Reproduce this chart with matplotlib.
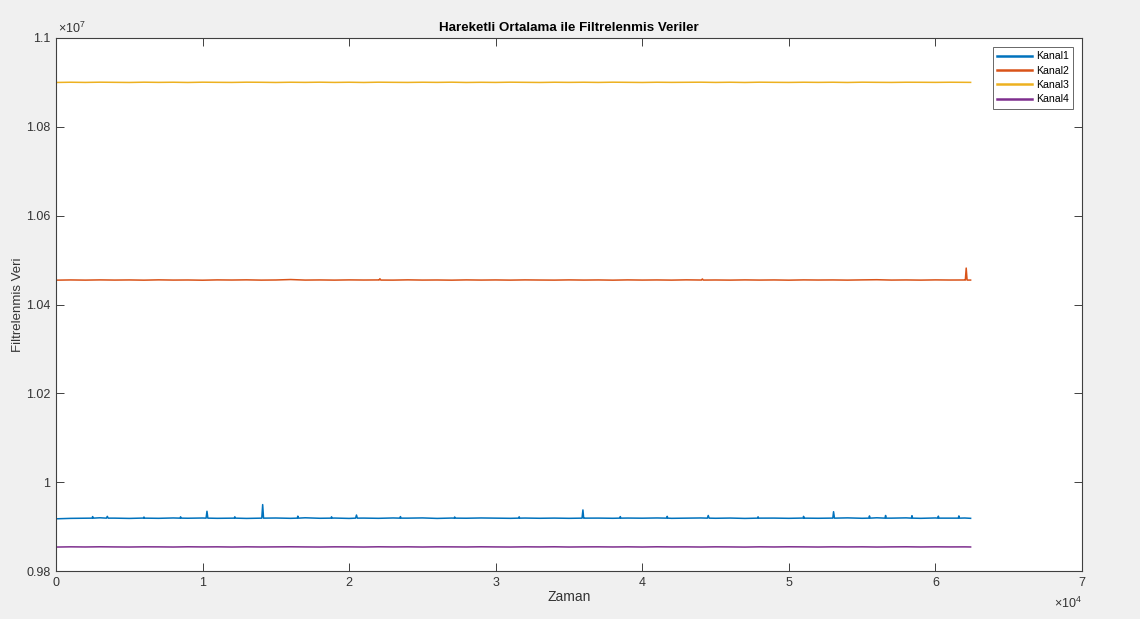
import numpy as np
import matplotlib
matplotlib.use('Agg')
import matplotlib.pyplot as plt

plt.rcParams['font.family'] = ['Liberation Sans', 'DejaVu Sans']
plt.rcParams['mathtext.fontset'] = 'custom'
plt.rcParams['mathtext.rm'] = 'Liberation Sans'
plt.rcParams['mathtext.it'] = 'Liberation Sans'

# sample index of the base readings (every 1000 samples, last at 62400)
zaman = list(range(0, 62001, 1000)) + [62400]

kanal1 = [9917500, 9918500, 9919000, 9919800, 9919000, 9918400, 9919200, 9918600,
          9919400, 9918800, 9919300, 9918600, 9919100, 9918400, 9919000, 9919300,
          9918600, 9919800, 9918700, 9919200, 9918400, 9919100, 9918600, 9919400,
          9919000, 9919500, 9918400, 9919200, 9918800, 9919400, 9919000, 9918600,
          9919200, 9918700, 9919100, 9918600, 9919100, 9919100, 9918700, 9919200,
          9918900, 9919400, 9918600, 9919100, 9919400, 9918700, 9919200, 9918400,
          9919000, 9919100, 9918600, 9919200, 9918700, 9919100, 9919600, 9918700,
          9919800, 9919000, 9919600, 9918600, 9919400, 9919100, 9919300, 9918600]
kanal2 = [10454800, 10455300, 10454900, 10455400, 10455000, 10455300, 10454800, 10455500,
          10455000, 10455200, 10454700, 10455400, 10455100, 10455500, 10454900, 10455200,
          10456200, 10455000, 10455300, 10454900, 10455400, 10455100, 10455300, 10454900,
          10455500, 10455000, 10455200, 10454800, 10455400, 10455000, 10455300, 10454900,
          10455400, 10455100, 10454900, 10455400, 10455000, 10455300, 10454800, 10455400,
          10455000, 10455300, 10454900, 10455500, 10455100, 10455200, 10454900, 10455400,
          10455000, 10455300, 10454800, 10455400, 10455100, 10455300, 10454900, 10455400,
          10455800, 10455000, 10455300, 10454900, 10455400, 10455100, 10455200, 10455000]
kanal3 = [10899900, 10900400, 10900000, 10900500, 10900200, 10899900, 10900500, 10900100,
          10900400, 10899900, 10900500, 10900200, 10900000, 10900500, 10900300, 10899900,
          10900400, 10900100, 10900500, 10900000, 10900400, 10899900, 10900500, 10900200,
          10900000, 10900400, 10900100, 10900500, 10899900, 10900300, 10900000, 10900500,
          10900200, 10899900, 10900400, 10900100, 10900400, 10900000, 10900500, 10900200,
          10899900, 10900400, 10900100, 10900300, 10900500, 10900000, 10900400, 10899900,
          10900500, 10900200, 10900000, 10900400, 10900100, 10900400, 10899900, 10900500,
          10900200, 10900000, 10900400, 10900300, 10900100, 10900400, 10900200, 10900100]
kanal4 = [9853900, 9854400, 9854100, 9854500, 9854200, 9854000, 9854400, 9854300,
          9854000, 9854500, 9854200, 9854400, 9854000, 9854400, 9854100, 9854300,
          9854500, 9854200, 9854000, 9854400, 9854300, 9854000, 9854500, 9854200,
          9854400, 9854000, 9854400, 9854300, 9854100, 9854500, 9854200, 9854000,
          9854400, 9854200, 9854500, 9854000, 9854300, 9854400, 9854100, 9854400,
          9854000, 9854500, 9854200, 9854300, 9854000, 9854400, 9854200, 9853900,
          9854400, 9854100, 9854500, 9854300, 9854000, 9854400, 9854200, 9854400,
          9854000, 9854300, 9854500, 9854100, 9854400, 9854200, 9854300, 9854100]

# narrow spikes and bumps of Kanal1 (flank, peak, flank)
kanal1_spike_x = [2460, 2500, 2540, 3440, 3500, 3560, 5960, 6000, 6040, 8460, 8500, 8540,
                  10240, 10300, 10360, 12160, 12200, 12240, 14040, 14100, 14160,
                  16460, 16500, 16540, 18760, 18800, 18840, 20440, 20500, 20560,
                  23460, 23500, 23540, 27160, 27200, 27240, 31560, 31600, 31640,
                  35890, 35950, 36010, 38460, 38500, 38540, 41660, 41700, 41740,
                  44440, 44500, 44560, 47860, 47900, 47940, 50960, 51000, 51040,
                  52990, 53050, 53110, 55460, 55500, 55540, 56560, 56600, 56640,
                  58360, 58400, 58440, 60160, 60200, 60240, 61560, 61600, 61640]
kanal1_spike_y = [9919000, 9922500, 9919000, 9919000, 9923000, 9919000, 9919000, 9921500, 9919000,
                  9919000, 9922000, 9919000, 9919000, 9934500, 9919000, 9919000, 9922000, 9919000,
                  9919000, 9949500, 9919000, 9919000, 9923500, 9919000, 9919000, 9922000, 9919000,
                  9919000, 9926000, 9919000, 9919000, 9922500, 9919000, 9919000, 9921500, 9919000,
                  9919000, 9922000, 9919000, 9919000, 9937500, 9919000, 9919000, 9922500, 9919000,
                  9919000, 9923000, 9919000, 9919000, 9925000, 9919000, 9919000, 9922000, 9919000,
                  9919000, 9923000, 9919000, 9919000, 9933500, 9919000, 9919000, 9924000, 9919000,
                  9919000, 9925000, 9919000, 9919000, 9924500, 9919000, 9919000, 9923500, 9919000,
                  9919000, 9924000, 9919000]
kanal2_spike_x = [22040, 22100, 22160, 44040, 44100, 44160, 62040, 62100, 62160]
kanal2_spike_y = [10455000, 10458000, 10455000, 10455000, 10457500, 10455000,
                  10455000, 10482000, 10455000]

labels = ['Kanal1', 'Kanal2', 'Kanal3', 'Kanal4']
colors = ['#0072BD', '#D95319', '#EDB120', '#7E2F8E']

x_ticks = [0, 10000, 20000, 30000, 40000, 50000, 60000, 70000]
x_ticklabels = ['0', '1', '2', '3', '4', '5', '6', '7']
y_ticks = [9800000, 10000000, 10200000, 10400000, 10600000, 10800000, 11000000]
y_ticklabels = ['0.98', '1', '1.02', '1.04', '1.06', '1.08', '1.1']


def merge(xs, ys, sx=None, sy=None):
    xs = np.asarray(xs, dtype=float)
    ys = np.asarray(ys, dtype=float)
    if sx is not None:
        xs = np.concatenate([xs, sx])
        ys = np.concatenate([ys, sy])
    order = np.argsort(xs, kind='stable')
    return xs[order], ys[order]


series = [merge(zaman, kanal1, kanal1_spike_x, kanal1_spike_y),
          merge(zaman, kanal2, kanal2_spike_x, kanal2_spike_y),
          merge(zaman, kanal3),
          merge(zaman, kanal4)]

fig = plt.figure(figsize=(11.4, 6.19), dpi=100, facecolor='#f0f0f0')
ax = fig.add_axes([56 / 1140, 1 - 571 / 619, 1026 / 1140, 533 / 619])
ax.set_facecolor('white')

for (xs, ys), lab, c in zip(series, labels, colors):
    ax.plot(xs, ys, color=c, lw=1.1, label=lab)

ax.set_xlim(0, 70000)
ax.set_ylim(9800000, 11000000)
ax.set_xticks(x_ticks)
ax.set_xticklabels(x_ticklabels)
ax.set_yticks(y_ticks)
ax.set_yticklabels(y_ticklabels)

tick_col = '#333333'
ax.tick_params(direction='in', length=5.8, width=0.7, color='#404040',
               labelcolor=tick_col, labelsize=9, top=True, right=True, pad=4)
for s in ax.spines.values():
    s.set_color('#404040')
    s.set_linewidth(0.8)

ax.text(0.002, 1.004, r'$\times$10$^{7}$', transform=ax.transAxes, ha='left', va='bottom',
        fontsize=9, color=tick_col)
ax.text(1.0, -0.046, r'$\times$10$^{4}$', transform=ax.transAxes, ha='right', va='top',
        fontsize=9, color=tick_col)

ax.set_title('Hareketli Ortalama ile Filtrelenmis Veriler', fontsize=9.6,
             fontweight='bold', color='black', pad=5)
ax.set_xlabel('Zaman', fontsize=10, color=tick_col)
ax.xaxis.set_label_coords(0.5, -0.036)
ax.set_ylabel('Filtrelenmis Veri', fontsize=9.5, color=tick_col)
ax.yaxis.set_label_coords(-0.031, 0.5)

leg = ax.legend(loc='upper right', fontsize=7.6, frameon=True, fancybox=False,
                borderpad=0.4, labelspacing=0.42, handlelength=3.3, handletextpad=0.4,
                borderaxespad=0.85)
leg.get_frame().set_edgecolor('#404040')
leg.get_frame().set_linewidth(0.7)
for ln in leg.get_lines():
    ln.set_linewidth(1.8)

fig.savefig('out.png', dpi=100, facecolor=fig.get_facecolor())
